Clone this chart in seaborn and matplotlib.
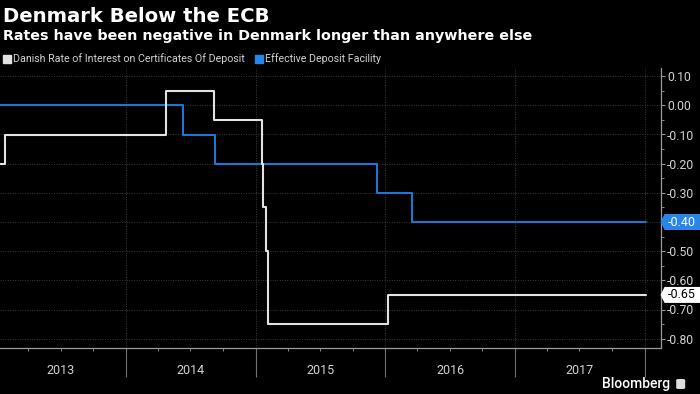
import numpy as np
import pandas as pd
import matplotlib
matplotlib.use("Agg")
import matplotlib.pyplot as plt
import matplotlib.dates as mdates
from matplotlib.path import Path
from matplotlib.lines import Line2D
from matplotlib.ticker import MultipleLocator, FuncFormatter
import seaborn as sns

# ---- data ----
danish_dates = ["2013-01-11", "2013-01-25", "2014-04-24", "2014-09-05", "2015-01-20",
                "2015-01-23", "2015-01-30", "2015-02-06", "2016-01-08", "2018-01-05"]
danish_rates = [-0.20, -0.10, 0.05, -0.05, -0.20, -0.35, -0.50, -0.75, -0.65, -0.65]

ecb_dates = ["2013-01-11", "2014-06-11", "2014-09-10", "2015-12-09", "2016-03-16", "2018-01-05"]
ecb_rates = [0.00, -0.10, -0.20, -0.30, -0.40, -0.40]

year_labels = ["2013", "2014", "2015", "2016", "2017"]
series_names = ["Danish Rate of Interest on Certificates Of Deposit", "Effective Deposit Facility"]

title = "Denmark Below the ECB"
subtitle = "Rates have been negative in Denmark longer than anywhere else"

WHITE = "#e2e2e2"
BLUE = "#1f74d4"
BLUE_TAG = "#2a85e8"
GRID = "#3a3a3a"
AXC = "#9a9a9a"
TXT = "#d2d2d2"

sns.set_theme(style="dark")
plt.rcParams["font.family"] = ["Roboto", "DejaVu Sans"]

danish = pd.DataFrame({"date": pd.to_datetime(danish_dates), "rate": danish_rates, "series": series_names[0]})
ecb = pd.DataFrame({"date": pd.to_datetime(ecb_dates), "rate": ecb_rates, "series": series_names[1]})

fig = plt.figure(figsize=(7.0, 3.94), dpi=100, facecolor="black")
ax = fig.add_axes([0.0, (394 - 348) / 394, 661 / 700, (348 - 68) / 394])
ax.set_facecolor("black")

sns.lineplot(data=ecb, x="date", y="rate", ax=ax, color=BLUE, lw=1.5,
             drawstyle="steps-post", legend=False)
sns.lineplot(data=danish, x="date", y="rate", ax=ax, color=WHITE, lw=1.5,
             drawstyle="steps-post", legend=False)

ax.set_xlim(pd.Timestamp("2013-01-11"), pd.Timestamp("2018-02-16"))
ax.set_ylim(-0.832, 0.128)
ax.set_xlabel("")
ax.set_ylabel("")

# y axis on the right
ax.yaxis.tick_right()
ax.yaxis.set_major_locator(MultipleLocator(0.1))
ax.yaxis.set_minor_locator(MultipleLocator(0.05))
ax.yaxis.set_major_formatter(FuncFormatter(lambda v, p: f"{v:.2f}" if abs(v) > 1e-9 else "0.00"))
ax.tick_params(axis="y", which="major", length=3, width=0.8, color=AXC, pad=1.5,
               labelsize=8.8, labelcolor=TXT, right=True, left=False)
ax.tick_params(axis="y", which="minor", length=2, width=0.6, color=AXC, right=True, left=False)

# x axis: year boundaries (long ticks), quarterly minor ticks
ax.xaxis.set_major_locator(mdates.YearLocator())
ax.xaxis.set_minor_locator(mdates.MonthLocator(bymonth=[4, 7, 10]))
ax.xaxis.set_major_formatter(FuncFormatter(lambda v, p: ""))
ax.tick_params(axis="x", which="major", length=21, width=0.8, color="#707070", bottom=True)
ax.tick_params(axis="x", which="minor", length=2.5, width=0.6, color=AXC, bottom=True)

for lab in year_labels:
    ax.text(pd.Timestamp(f"{lab}-07-02"), -0.08, lab, transform=ax.get_xaxis_transform(),
            ha="center", va="center", fontsize=9, color=TXT)

ax.grid(True, which="major", axis="both", color=GRID, lw=0.7, ls=(0, (1, 1.5)))
for s in ["top", "left"]:
    ax.spines[s].set_visible(False)
for s in ["right", "bottom"]:
    ax.spines[s].set_color(AXC)
    ax.spines[s].set_linewidth(0.9)

# value tags on the right axis
def tag_box(x0, y0, width, height, mutation_size):
    padx = 0.25 * mutation_size
    pady = 0.12 * mutation_size
    bx0 = x0 - padx
    bx1 = x0 + width + padx * 2
    by0 = y0 - pady
    by1 = y0 + height + pady
    tip = (by1 - by0) * 0.25
    ym = (by0 + by1) / 2
    verts = [(bx0, by0), (bx1, by0), (bx1, by1), (bx0, by1), (bx0 - tip, ym), (bx0, by0)]
    codes = [Path.MOVETO] + [Path.LINETO] * 4 + [Path.CLOSEPOLY]
    return Path(verts, codes)

last_ecb = ecb_rates[-1]
last_dk = danish_rates[-1]
ax.annotate(f"{last_ecb:.2f}", xy=(1, last_ecb), xycoords=("axes fraction", "data"),
            xytext=(4.8, 0), textcoords="offset points", ha="left", va="center",
            fontsize=9, color="white",
            bbox=dict(boxstyle=tag_box, fc=BLUE_TAG, ec="none"), annotation_clip=False)
ax.annotate(f"{last_dk:.2f}", xy=(1, last_dk), xycoords=("axes fraction", "data"),
            xytext=(4.8, 0), textcoords="offset points", ha="left", va="center",
            fontsize=9, color="black",
            bbox=dict(boxstyle=tag_box, fc="white", ec="none"), annotation_clip=False)

# titles
fig.text(0.004, 1 - 16 / 394, title, fontsize=14.1, fontweight="bold", color="white",
         family=["DejaVu Sans"], va="center", ha="left")
fig.text(0.004, 1 - 36 / 394, subtitle, fontsize=10.3, fontweight="bold", color="white",
         family=["DejaVu Sans"], va="center", ha="left")

# legend
handles = [Line2D([], [], ls="none", marker="s", markersize=5.5, color=WHITE),
           Line2D([], [], ls="none", marker="s", markersize=5.5, color=BLUE_TAG)]
fig.legend(handles, series_names, loc="center left", bbox_to_anchor=(0.003, 1 - 59 / 394),
           ncol=2, frameon=False, fontsize=7.7, labelcolor=TXT, handlelength=0.6,
           handletextpad=0.25, columnspacing=1.0, borderaxespad=0, borderpad=0.2)

# Bloomberg mark
fig.text(0.958, 1 - 384 / 394, "Bloomberg", fontsize=10, color="white",
         ha="right", va="center", fontweight="medium")
fig.patches.append(matplotlib.patches.FancyBboxPatch(
    (0.966, 1 - 389 / 394), 9 / 700, 10 / 394, boxstyle="round,pad=0.0,rounding_size=0.003",
    transform=fig.transFigure, fc="#dddddd", ec="none", figure=fig))

fig.savefig("out.png", dpi=100, facecolor="black")
